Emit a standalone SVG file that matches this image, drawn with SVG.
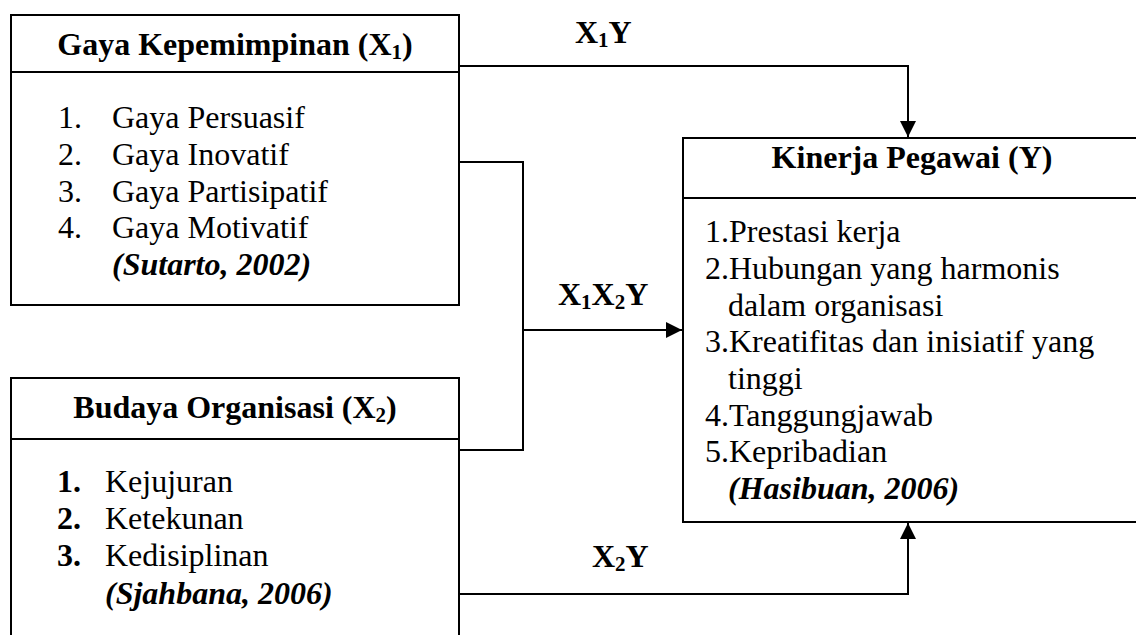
<svg xmlns="http://www.w3.org/2000/svg" width="1136" height="635" viewBox="0 0 1136 635">
<style>
text{font-family:"Liberation Serif","Times New Roman",serif;font-size:32px;fill:#000}
.b{font-weight:bold}
.bi{font-weight:bold;font-style:italic}
.box{fill:#fff;stroke:#000;stroke-width:2}
.ln{fill:none;stroke:#000;stroke-width:2}
.sub{font-size:21px}
</style>
<defs>
<marker id="ah" markerUnits="userSpaceOnUse" markerWidth="18" markerHeight="18" refX="16" refY="8" orient="auto">
<path d="M0,0 L16,8 L0,16 Z" fill="#000"/>
</marker>
</defs>
<rect width="1136" height="635" fill="#fff"/>
<g id="connectors">
<path class="ln" d="M459,66 H908 V137" marker-end="url(#ah)"/>
<path class="ln" d="M459,162 H523 V450 H459"/>
<path class="ln" d="M523,330 H682" marker-end="url(#ah)"/>
<path class="ln" d="M459,594 H908 V523" marker-end="url(#ah)"/>
<text class="b" x="575" y="43">X<tspan class="sub" dy="4">1</tspan><tspan dy="-4">Y</tspan></text>
<text class="b" x="558" y="305">X<tspan class="sub" dy="4">1</tspan><tspan dy="-4">X</tspan><tspan class="sub" dy="4">2</tspan><tspan dy="-4">Y</tspan></text>
<text class="b" x="592" y="567">X<tspan class="sub" dy="4">2</tspan><tspan dy="-4">Y</tspan></text>
</g>
<g id="gaya">
<rect class="box" x="11" y="15" width="448" height="290"/>
<line class="ln" x1="11" y1="72" x2="459" y2="72"/>
<text class="b" x="235" y="55" text-anchor="middle">Gaya Kepemimpinan (X<tspan class="sub" dy="4">1</tspan><tspan dy="-4">)</tspan></text>
<text x="58" y="128">1.</text><text x="112" y="128">Gaya Persuasif</text>
<text x="58" y="165">2.</text><text x="112" y="165">Gaya Inovatif</text>
<text x="58" y="201.5">3.</text><text x="112" y="201.5">Gaya Partisipatif</text>
<text x="58" y="238">4.</text><text x="112" y="238">Gaya Motivatif</text>
<text class="bi" x="112" y="275">(Sutarto, 2002)</text>
</g>
<g id="budaya">
<path class="box" d="M11,640 V378 H459 V640"/>
<line class="ln" x1="11" y1="439" x2="459" y2="439"/>
<text class="b" x="235" y="418" text-anchor="middle">Budaya Organisasi (X<tspan class="sub" dy="4">2</tspan><tspan dy="-4">)</tspan></text>
<text class="b" x="57" y="492">1.</text><text x="105" y="492">Kejujuran</text>
<text class="b" x="57" y="529">2.</text><text x="105" y="529">Ketekunan</text>
<text class="b" x="57" y="566">3.</text><text x="105" y="566">Kedisiplinan</text>
<text class="bi" x="105" y="604">(Sjahbana, 2006)</text>
</g>
<g id="kinerja">
<path class="box" d="M1140,138 H683 V522 H1140"/>
<line class="ln" x1="683" y1="198" x2="1136" y2="198"/>
<text class="b" x="912" y="168" text-anchor="middle">Kinerja Pegawai (Y)</text>
<text x="705" y="242">1.Prestasi kerja</text>
<text x="705" y="279">2.Hubungan yang harmonis</text>
<text x="728" y="315.5">dalam organisasi</text>
<text x="705" y="352">3.Kreatifitas dan inisiatif yang</text>
<text x="728" y="389">tinggi</text>
<text x="705" y="425.5">4.Tanggungjawab</text>
<text x="705" y="462">5.Kepribadian</text>
<text class="bi" x="728" y="499">(Hasibuan, 2006)</text>
</g>
</svg>
